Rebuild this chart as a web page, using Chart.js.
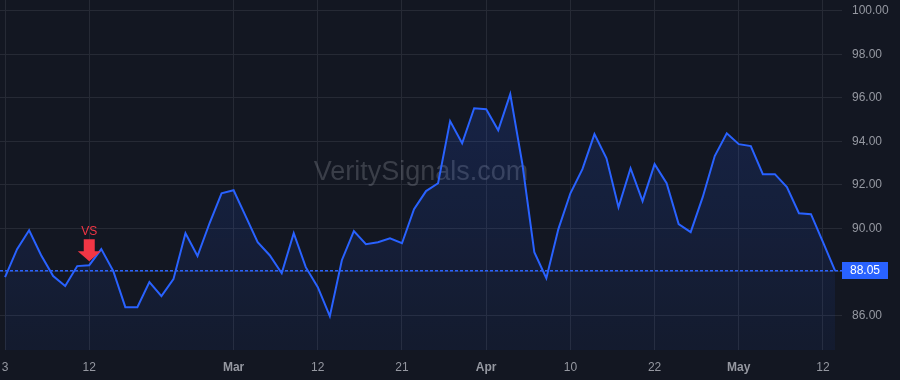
<!DOCTYPE html>
<html lang="en">
<head>
  <meta charset="UTF-8">
  <title>VeritySignals price chart</title>
  <script src="https://cdn.jsdelivr.net/npm/chart.js"></script>
  <style>
    html, body {
      margin: 0;
      padding: 0;
      background: #131722;
    }
    .chart-box {
      width: 900px;
      height: 380px;
    }
  </style>
</head>
<body>

<div class="chart-box"><canvas id="priceChart"></canvas></div>

<script>
  // trading days, Feb 3 - May 13
  const dates = [
    "2025-02-03","2025-02-04","2025-02-05","2025-02-06","2025-02-07","2025-02-10","2025-02-11","2025-02-12","2025-02-13","2025-02-14",
    "2025-02-18","2025-02-19","2025-02-20","2025-02-21","2025-02-24","2025-02-25","2025-02-26","2025-02-27","2025-02-28",
    "2025-03-03","2025-03-04","2025-03-05","2025-03-06","2025-03-07","2025-03-10","2025-03-11","2025-03-12","2025-03-13","2025-03-14",
    "2025-03-17","2025-03-18","2025-03-19","2025-03-20","2025-03-21","2025-03-24","2025-03-25","2025-03-26","2025-03-27","2025-03-28","2025-03-31",
    "2025-04-01","2025-04-02","2025-04-03","2025-04-04","2025-04-07","2025-04-08","2025-04-09","2025-04-10","2025-04-11",
    "2025-04-14","2025-04-15","2025-04-16","2025-04-17","2025-04-21","2025-04-22","2025-04-23","2025-04-24","2025-04-25",
    "2025-04-28","2025-04-29","2025-04-30",
    "2025-05-01","2025-05-02","2025-05-05","2025-05-06","2025-05-07","2025-05-08","2025-05-09","2025-05-12","2025-05-13"
  ];

  const closes = [
    87.75, 89.04, 89.91, 88.76, 87.80, 87.34, 88.26, 88.30, 89.04, 88.03,
    86.37, 86.37, 87.52, 86.88, 87.66, 89.77, 88.72, 90.23, 91.61,
    91.75, 90.56, 89.36, 88.76, 87.93, 89.77, 88.21, 87.29, 85.96, 88.53,
    89.87, 89.27, 89.36, 89.54, 89.31, 90.88, 91.71, 92.07, 94.93, 93.91, 95.52,
    95.48, 94.51, 96.17, 92.98, 88.90, 87.70, 89.96, 91.61, 92.72,
    94.33, 93.22, 90.97, 92.76, 91.25, 92.95, 92.07, 90.19, 89.82,
    91.43, 93.32, 94.37,
    93.87, 93.78, 92.49, 92.49, 91.89, 90.69, 90.65, 89.36, 88.05
  ];

  const tickDates = ["2025-02-03","2025-02-12","2025-03-03","2025-03-12","2025-03-21","2025-04-01","2025-04-10","2025-04-22","2025-05-01","2025-05-12"];
  const tickTexts = ["3","12","Mar","12","21","Apr","10","22","May","12"];
  const monthTicks = ["Mar","Apr","May"];

  const yTicks = [86, 88, 90, 92, 94, 96, 98, 100];
  const lastPrice = 88.05;

  const signalDate = "2025-02-12";
  const signalText = "VS";

  const watermark = "VeritySignals.com";

  const blue = '#2962ff';
  const red = '#f23645';
  const gridColor = '#262a35';
  const textColor = '#9598a1';
  const fontFamily = "'Liberation Sans', Arial, sans-serif";

  const points = closes.map((v, i) => ({ x: i, y: v }));
  const tickIndex = tickDates.map(d => dates.indexOf(d));

  const watermarkPlugin = {
    id: 'watermark',
    beforeDatasetsDraw(chart) {
      const { ctx, chartArea } = chart;
      ctx.save();
      ctx.font = '27px ' + fontFamily;
      ctx.fillStyle = 'rgba(149,152,161,0.3)';
      ctx.textAlign = 'center';
      ctx.textBaseline = 'middle';
      ctx.fillText(watermark, (chartArea.left + chartArea.right) / 2, (chartArea.top + chartArea.bottom) / 2 - 2);
      ctx.restore();
    }
  };

  const priceLinePlugin = {
    id: 'priceLine',
    afterDatasetsDraw(chart) {
      const { ctx, chartArea, scales } = chart;
      const y = Math.round(scales.y.getPixelForValue(lastPrice));
      ctx.save();
      ctx.fillStyle = blue;
      // dotted price line, drawn as small dashes
      for (let x = chartArea.left; x < chartArea.right; x += 5) {
        ctx.fillRect(x, y - 1, 3, 1.5);
      }
      // price label on the axis
      ctx.fillRect(chartArea.right, y - 9, 46, 17);
      ctx.fillStyle = '#ffffff';
      ctx.font = '12px ' + fontFamily;
      ctx.textAlign = 'center';
      ctx.textBaseline = 'middle';
      ctx.fillText(lastPrice.toFixed(2), chartArea.right + 23, y);

      // signal marker
      const i = dates.indexOf(signalDate);
      const sx = scales.x.getPixelForValue(i);
      const tip = scales.y.getPixelForValue(closes[i]) - 4;
      ctx.fillStyle = red;
      ctx.beginPath();
      ctx.moveTo(sx - 5.5, tip - 22);
      ctx.lineTo(sx + 5.5, tip - 22);
      ctx.lineTo(sx + 5.5, tip - 10);
      ctx.lineTo(sx + 11.5, tip - 10);
      ctx.lineTo(sx, tip);
      ctx.lineTo(sx - 11.5, tip - 10);
      ctx.lineTo(sx - 5.5, tip - 10);
      ctx.closePath();
      ctx.fill();
      ctx.font = '12px ' + fontFamily;
      ctx.textBaseline = 'middle';
      ctx.fillText(signalText, sx, tip - 30);
      ctx.restore();
    }
  };

  const ctx = document.getElementById('priceChart').getContext('2d');
  new Chart(ctx, {
    type: 'line',
    data: {
      datasets: [{
        data: points,
        borderColor: blue,
        borderWidth: 2,
        pointRadius: 0,
        tension: 0,
        fill: 'start',
        backgroundColor(context) {
          const area = context.chart.chartArea;
          if (!area) return 'rgba(41,98,255,0.12)';
          const g = context.chart.ctx.createLinearGradient(0, area.top, 0, area.bottom);
          g.addColorStop(0, 'rgba(41,98,255,0.2)');
          g.addColorStop(1, 'rgba(41,98,255,0.06)');
          return g;
        }
      }]
    },
    options: {
      responsive: true,
      maintainAspectRatio: false,
      animation: false,
      layout: { padding: 0 },
      plugins: {
        legend: { display: false },
        tooltip: { enabled: false }
      },
      scales: {
        x: {
          type: 'linear',
          min: -0.42,
          max: 69.58,
          afterBuildTicks(axis) {
            axis.ticks = tickIndex.map(v => ({ value: v }));
          },
          afterFit(axis) {
            axis.height = 30;
            axis.paddingLeft = 0;
            axis.paddingRight = 0;
          },
          ticks: {
            autoSkip: false,
            maxRotation: 0,
            padding: 10,
            color: textColor,
            font(c) {
              const t = c.tick ? tickTexts[tickIndex.indexOf(c.tick.value)] : '';
              return { family: fontFamily, size: 12, weight: monthTicks.includes(t) ? 'bold' : 'normal' };
            },
            callback(value) {
              return tickTexts[tickIndex.indexOf(value)];
            }
          },
          grid: { color: gridColor, tickLength: 0 },
          border: { display: false }
        },
        y: {
          position: 'right',
          min: 84.4,
          max: 100.5,
          afterBuildTicks(axis) {
            axis.ticks = yTicks.map(v => ({ value: v }));
          },
          afterFit(axis) {
            axis.width = 58;
            axis.paddingTop = 0;
            axis.paddingBottom = 0;
          },
          ticks: {
            padding: 10,
            color: textColor,
            font: { family: fontFamily, size: 12 },
            callback: v => v.toFixed(2)
          },
          grid: { color: gridColor, tickLength: 0 },
          border: { display: false }
        }
      }
    },
    plugins: [watermarkPlugin, priceLinePlugin]
  });
</script>
</body>
</html>
